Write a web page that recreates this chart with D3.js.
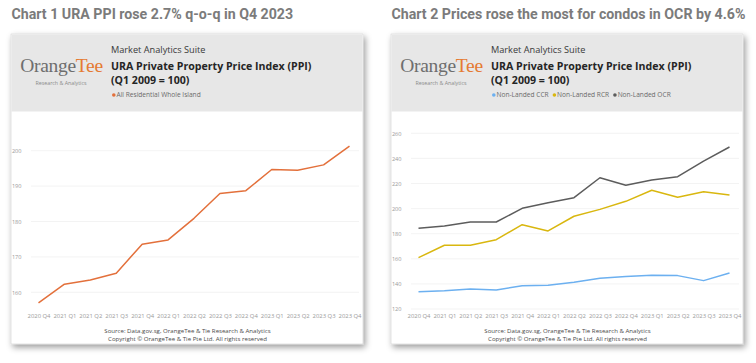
<!DOCTYPE html>
<html lang="en">
<head>
<meta charset="UTF-8">
<title>URA PPI charts</title>
<script src="https://d3js.org/d3.v7.min.js"></script>
<style>
    body { margin: 0; padding: 0; background: #ffffff; }
    svg { display: block; }
    .heading { font-family: Roboto, sans-serif; font-weight: 700; fill: #7b7b7b; }
    .ui { font-family: "Open Sans", "Noto Sans", sans-serif; }
</style>
</head>
<body>
<svg id="chart"></svg>
<script>
    // data
    const quarters = ["2020 Q4", "2021 Q1", "2021 Q2", "2021 Q3", "2021 Q4", "2022 Q1", "2022 Q2",
        "2022 Q3", "2022 Q4", "2023 Q1", "2023 Q2", "2023 Q3", "2023 Q4"];
    const allResidential = [157.0, 162.3, 163.5, 165.4, 173.6, 174.8, 180.9, 187.9, 188.7, 194.7, 194.5, 196.0, 201.3];
    const nonLandedCCR = [133.8, 134.6, 136.0, 135.1, 138.6, 138.9, 141.3, 144.5, 145.8, 146.9, 146.6, 142.6, 148.7];
    const nonLandedRCR = [160.9, 170.8, 170.8, 175.2, 187.2, 182.2, 193.9, 199.4, 205.8, 214.6, 209.0, 213.5, 210.8];
    const nonLandedOCR = [184.3, 186.1, 189.3, 189.3, 200.2, 204.7, 208.7, 224.6, 218.6, 222.8, 225.4, 237.9, 249.1];
    const ticks1 = [160, 170, 180, 190, 200];
    const ticks2 = [120, 140, 160, 180, 200, 220, 240, 260];

    const W = 756, H = 363;
    const svg = d3.select("#chart").attr("width", W).attr("height", H);

    const defs = svg.append("defs");
    const shadow = defs.append("filter").attr("id", "shadow")
        .attr("x", "-5%").attr("y", "-5%").attr("width", "112%").attr("height", "115%");
    shadow.append("feDropShadow").attr("dx", 2).attr("dy", 3).attr("stdDeviation", 3)
        .attr("flood-color", "#000").attr("flood-opacity", 0.4);

    const panels = [
        {
            x: 11, title: "Chart 1 URA PPI rose 2.7% q-o-q in Q4 2023",
            ticks: ticks1, domain: [160, 200], range: [292.3, 150.7],
            series: [{ name: "All Residential Whole Island", values: allResidential, color: "#e3703b" }]
        },
        {
            x: 391, title: "Chart 2 Prices rose the most for condos in OCR by 4.6%",
            ticks: ticks2, domain: [120, 260], range: [309, 133.3],
            series: [
                { name: "Non-Landed CCR", values: nonLandedCCR, color: "#6cb0f0" },
                { name: "Non-Landed RCR", values: nonLandedRCR, color: "#d9b70f" },
                { name: "Non-Landed OCR", values: nonLandedOCR, color: "#5c5c5c" }
            ]
        }
    ];

    const cardW = 352, cardTop = 34, cardBottom = 344, headerBottom = 111;

    panels.forEach(p => {
        const g = svg.append("g").attr("transform", `translate(${p.x},0)`);

        g.append("text").attr("class", "heading")
            .attr("x", 0.5).attr("y", 18.5).style("font-size", "14.2px")
            .text(p.title);

        // card
        g.append("rect").attr("x", 0).attr("y", cardTop)
            .attr("width", cardW).attr("height", cardBottom - cardTop)
            .attr("fill", "#ffffff").attr("stroke", "#d0d0d0").attr("stroke-width", 0.6)
            .attr("filter", "url(#shadow)");
        g.append("rect").attr("x", 0.5).attr("y", cardTop + 0.5)
            .attr("width", cardW - 1).attr("height", headerBottom - cardTop)
            .attr("fill", "#e7e7e7");

        // logo
        const logo = g.append("text").attr("x", 50.5).attr("y", 71.5)
            .attr("text-anchor", "middle")
            .style("font-family", "'Liberation Serif', 'DejaVu Serif', serif")
            .style("font-size", "19.5px").style("letter-spacing", "-0.3px");
        logo.append("tspan").attr("fill", "#6e6e6e").text("Orange");
        logo.append("tspan").attr("fill", "#e57a32").text("Tee");
        g.append("text").attr("class", "ui").attr("x", 50).attr("y", 85)
            .attr("text-anchor", "middle").attr("fill", "#8a8a8a")
            .style("font-size", "5.3px").text("Research & Analytics");

        // header texts
        g.append("text").attr("class", "ui").attr("x", 100).attr("y", 53)
            .attr("fill", "#3a3a3a").style("font-size", "9.2px")
            .text("Market Analytics Suite");
        g.append("text").attr("class", "ui").attr("x", 100).attr("y", 69.5)
            .attr("fill", "#252525").style("font-size", "10.6px").style("font-weight", 700)
            .text("URA Private Property Price Index (PPI)");
        g.append("text").attr("class", "ui").attr("x", 100).attr("y", 84)
            .attr("fill", "#252525").style("font-size", "10.6px").style("font-weight", 700)
            .text("(Q1 2009 = 100)");

        // legend
        let lx = 101;
        p.series.forEach(s => {
            g.append("circle").attr("cx", lx + 1.8).attr("cy", 95).attr("r", 1.8).attr("fill", s.color);
            const t = g.append("text").attr("class", "ui").attr("x", lx + 4.5).attr("y", 97.2)
                .attr("fill", "#6a6a6a").style("font-size", "6.6px").text(s.name);
            lx += 4.5 + t.node().getComputedTextLength() + 4;
        });

        // scales
        const x = d3.scalePoint().domain(quarters).range([27.5, 338.5]);
        const y = d3.scaleLinear().domain(p.domain).range(p.range);

        // gridlines
        g.append("g").selectAll("line").data(p.ticks).join("line")
            .attr("x1", 20).attr("x2", 348)
            .attr("y1", d => y(d)).attr("y2", d => y(d))
            .attr("stroke", "#f0f0f0").attr("stroke-width", 0.8);

        // y axis labels
        const yAxis = d3.axisLeft(y).tickValues(p.ticks).tickSize(0).tickPadding(0);
        const ya = g.append("g").attr("transform", "translate(10.5,0)").call(yAxis);
        ya.select(".domain").remove();
        ya.selectAll("text").attr("fill", "#9a9a9a")
            .style("font-family", "'Open Sans', sans-serif").style("font-size", "5.6px");

        // x axis labels
        const xAxis = d3.axisBottom(x).tickSize(0).tickPadding(0);
        const xa = g.append("g").attr("transform", "translate(0,313.3)").call(xAxis);
        xa.select(".domain").remove();
        xa.selectAll("text").attr("fill", "#9a9a9a")
            .style("font-family", "'Open Sans', sans-serif").style("font-size", "5.9px");

        // lines
        const line = d3.line().x((d, i) => x(quarters[i])).y(d => y(d));
        p.series.forEach(s => {
            g.append("path").datum(s.values)
                .attr("d", line).attr("fill", "none")
                .attr("stroke", s.color).attr("stroke-width", 1.5)
                .attr("stroke-linejoin", "round");
        });

        // source
        g.append("text").attr("class", "ui").attr("x", cardW / 2 + 0.5).attr("y", 333)
            .attr("text-anchor", "middle").attr("fill", "#4a4a4a").style("font-size", "6.1px")
            .text("Source: Data.gov.sg, OrangeTee & Tie Research & Analytics");
        g.append("text").attr("class", "ui").attr("x", cardW / 2 + 0.5).attr("y", 341)
            .attr("text-anchor", "middle").attr("fill", "#4a4a4a").style("font-size", "6.1px")
            .text("Copyright \u00A9 OrangeTee & Tie Pte Ltd. All rights reserved");
    });
</script>
</body>
</html>
